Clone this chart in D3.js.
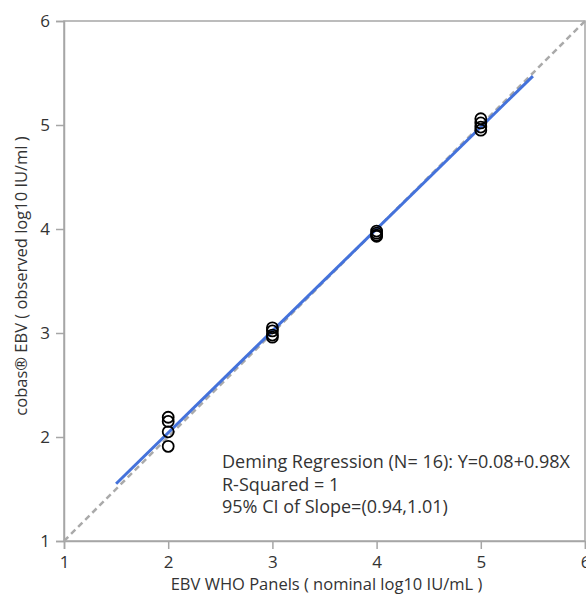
<!DOCTYPE html>
<html>
<head>
<meta charset="utf-8">
<script src="https://cdn.jsdelivr.net/npm/d3@7"></script>
<style>
    body { margin: 0; background: #fff; }
    text { font-family: "Open Sans", "Noto Sans", sans-serif; fill: #333; }
</style>
</head>
<body>
<div id="chart"></div>
<script>
// nominal panel level for each replicate
const nominal = [2, 2, 2, 2, 3, 3, 3, 3, 4, 4, 4, 4, 5, 5, 5, 5];
// observed log10 values
const observed = [2.19, 2.15, 2.05, 1.91, 3.05, 3.02, 2.98, 2.96, 3.98, 3.96, 3.94, 3.93, 5.06, 5.02, 4.98, 4.95];
const ticks = [1, 2, 3, 4, 5, 6];
const intercept = 0.08;
const slope = 0.98;
const fitRange = [1.5, 5.5];
const statLines = [
    'Deming Regression (N= 16): Y=0.08+0.98X',
    'R-Squared = 1',
    '95% CI of Slope=(0.94,1.01)'
];

const points = nominal.map((x, i) => ({ x, y: observed[i] }));

function createChart() {
    const width = 586;
    const height = 596;
    const margin = { top: 21, right: 1, bottom: 55, left: 64 };

    const svg = d3.select('#chart')
        .append('svg')
        .attr('width', width)
        .attr('height', height);

    const xScale = d3.scaleLinear()
        .domain([1, 6])
        .range([margin.left, width - margin.right]);

    const yScale = d3.scaleLinear()
        .domain([1, 6])
        .range([height - margin.bottom, margin.top]);

    // frame
    svg.append('rect')
        .attr('x', xScale(1))
        .attr('y', yScale(6))
        .attr('width', xScale(6) - xScale(1))
        .attr('height', yScale(1) - yScale(6))
        .attr('fill', 'none')
        .attr('stroke', '#a6a6a6')
        .attr('stroke-width', 1.5);

    // axes
    const xAxis = svg.append('g')
        .attr('transform', `translate(0, ${yScale(1)})`)
        .call(d3.axisBottom(xScale).tickValues(ticks).tickFormat(d3.format('d')).tickSize(8).tickPadding(7));

    const yAxis = svg.append('g')
        .attr('transform', `translate(${xScale(1)}, 0)`)
        .call(d3.axisLeft(yScale).tickValues(ticks).tickFormat(d3.format('d')).tickSize(8).tickPadding(6));

    [xAxis, yAxis].forEach(ax => {
        ax.select('.domain').attr('stroke', '#a6a6a6').attr('stroke-width', 1.5);
        ax.selectAll('.tick line').attr('stroke', '#a6a6a6').attr('stroke-width', 1.5);
        ax.selectAll('.tick text')
            .attr('font-size', 17)
            .attr('fill', '#333')
            .style('font-family', '"Open Sans", "Noto Sans", sans-serif');
    });

    // identity line
    svg.append('line')
        .attr('x1', xScale(1))
        .attr('y1', yScale(1))
        .attr('x2', xScale(6))
        .attr('y2', yScale(6))
        .attr('stroke', '#aaaaaa')
        .attr('stroke-width', 2.5)
        .attr('stroke-dasharray', '6,4');

    // Deming fit
    svg.append('line')
        .attr('x1', xScale(fitRange[0]))
        .attr('y1', yScale(intercept + slope * fitRange[0]))
        .attr('x2', xScale(fitRange[1]))
        .attr('y2', yScale(intercept + slope * fitRange[1]))
        .attr('stroke', '#4472db')
        .attr('stroke-width', 3);

    // points
    svg.append('g')
        .selectAll('circle')
        .data(points)
        .join('circle')
        .attr('cx', d => xScale(d.x))
        .attr('cy', d => yScale(d.y))
        .attr('r', 5.5)
        .attr('fill', 'none')
        .attr('stroke', '#000')
        .attr('stroke-width', 1.8);

    // stats text
    svg.append('g')
        .selectAll('text')
        .data(statLines)
        .join('text')
        .attr('x', 222)
        .attr('y', (d, i) => 468 + i * 22.5)
        .attr('font-size', 18)
        .text(d => d);

    // axis titles
    svg.append('text')
        .attr('x', (xScale(1) + xScale(6)) / 2 + 2)
        .attr('y', 590)
        .attr('text-anchor', 'middle')
        .attr('font-size', 16.5)
        .text('EBV WHO Panels ( nominal log10 IU/mL )');

    svg.append('text')
        .attr('transform', `translate(27, ${(yScale(1) + yScale(6)) / 2 - 5}) rotate(-90)`)
        .attr('text-anchor', 'middle')
        .attr('font-size', 16.5)
        .text('cobas® EBV ( observed log10 IU/ml )');
}

createChart();
</script>
</body>
</html>
